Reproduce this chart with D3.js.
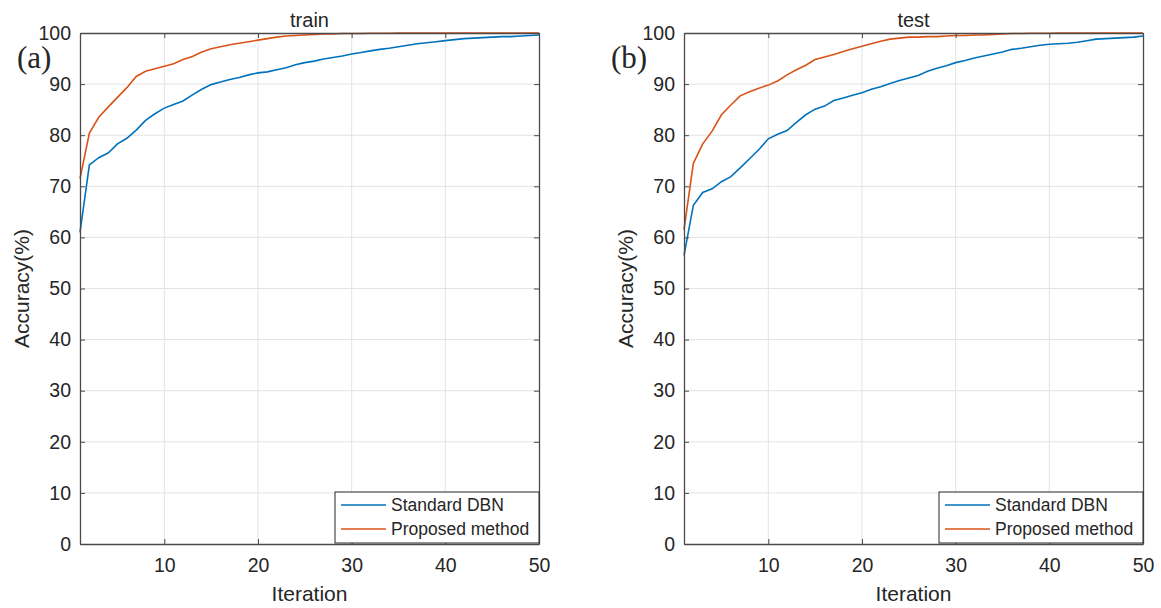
<!DOCTYPE html>
<html>
<head>
<meta charset="utf-8">
<script src="https://cdn.jsdelivr.net/npm/d3@7"></script>
<style>
  body { margin: 0; background: #fff; }
  svg text { font-family: "Liberation Sans", Arial, sans-serif; fill: #262626; }
</style>
</head>
<body>
<div id="chart"></div>
<script>
// iteration 1..50
const iterations = d3.range(1, 51)

// train accuracy (%)
const trainStandard = [61.0, 74.2, 75.6, 76.5, 78.3, 79.4, 81.0, 82.9, 84.2, 85.3,
    86.0, 86.7, 87.9, 89.0, 89.9, 90.4, 90.9, 91.3, 91.8, 92.2,
    92.4, 92.8, 93.2, 93.8, 94.2, 94.5, 94.9, 95.2, 95.5, 95.9,
    96.2, 96.5, 96.8, 97.0, 97.3, 97.6, 97.9, 98.1, 98.3, 98.5,
    98.7, 98.9, 99.0, 99.1, 99.2, 99.3, 99.3, 99.4, 99.5, 99.6]
const trainProposed = [71.5, 80.4, 83.5, 85.5, 87.4, 89.3, 91.5, 92.5, 93.0, 93.5,
    94.0, 94.8, 95.4, 96.3, 96.9, 97.3, 97.7, 98.0, 98.3, 98.6,
    98.9, 99.2, 99.4, 99.5, 99.6, 99.7, 99.8, 99.8, 99.9, 99.9,
    99.9, 99.95, 99.95, 99.95, 100, 100, 100, 100, 100, 100,
    100, 100, 100, 100, 100, 100, 100, 100, 100, 100]

// test accuracy (%)
const testStandard = [56.5, 66.3, 68.8, 69.5, 70.9, 71.9, 73.6, 75.4, 77.2, 79.3,
    80.2, 80.9, 82.5, 84.0, 85.1, 85.7, 86.8, 87.3, 87.8, 88.3,
    89.0, 89.5, 90.1, 90.7, 91.2, 91.7, 92.5, 93.1, 93.6, 94.2,
    94.6, 95.1, 95.5, 95.9, 96.3, 96.8, 97.0, 97.3, 97.6, 97.8,
    97.9, 98.0, 98.2, 98.5, 98.8, 98.9, 99.0, 99.1, 99.2, 99.4]
const testProposed = [61.5, 74.5, 78.3, 80.8, 84.0, 85.9, 87.7, 88.5, 89.2, 89.8,
    90.6, 91.8, 92.8, 93.7, 94.8, 95.3, 95.8, 96.4, 96.9, 97.4,
    97.9, 98.4, 98.8, 99.0, 99.2, 99.2, 99.3, 99.3, 99.4, 99.5,
    99.5, 99.6, 99.6, 99.7, 99.8, 99.9, 99.9, 99.95, 99.95, 99.95,
    100, 100, 100, 100, 100, 100, 100, 100, 100, 100]

const seriesNames = ["Standard DBN", "Proposed method"]
const colors = ["#0072BD", "#D95319"]
const xTicks = [10, 20, 30, 40, 50]
const yTicks = d3.range(0, 101, 10)

const width = 1161, height = 608

const svg = d3.select("#chart")
    .append("svg")
    .attr("width", width)
    .attr("height", height)

// panel boxes in pixels
const panels = [
    {left: 80, right: 539, title: "train", tag: "(a)", tagX: 17, data: [trainStandard, trainProposed]},
    {left: 684, right: 1143, title: "test", tag: "(b)", tagX: 611, data: [testStandard, testProposed]}
]
const plotTop = 33, plotBottom = 544

panels.forEach(function (p) {
    const x = d3.scaleLinear().domain([1, 50]).range([p.left, p.right])
    const y = d3.scaleLinear().domain([0, 100]).range([plotBottom, plotTop])
    const g = svg.append("g")

    // grid
    g.append("g")
        .selectAll("line")
        .data(xTicks.filter(d => d < 50))
        .enter().append("line")
        .attr("x1", d => x(d)).attr("x2", d => x(d))
        .attr("y1", plotTop).attr("y2", plotBottom)
        .attr("stroke", "#e3e3e3").attr("stroke-width", 1)
    g.append("g")
        .selectAll("line")
        .data(yTicks.filter(d => d > 0 && d < 100))
        .enter().append("line")
        .attr("x1", p.left).attr("x2", p.right)
        .attr("y1", d => y(d)).attr("y2", d => y(d))
        .attr("stroke", "#e3e3e3").attr("stroke-width", 1)

    // lines
    p.data.forEach(function (vals, k) {
        const line = d3.line()
            .x((d, i) => x(iterations[i]))
            .y(d => y(d))
        g.append("path")
            .datum(vals)
            .attr("d", line)
            .attr("fill", "none")
            .attr("stroke", colors[k])
            .attr("stroke-width", 1.6)
    })

    // axes (ticks inward, box on)
    const axColor = "#4a4a4a"
    const xb = g.append("g")
        .attr("transform", "translate(0," + plotBottom + ")")
        .call(d3.axisBottom(x).tickValues(xTicks).tickSizeInner(-5).tickSizeOuter(0).tickPadding(14))
    const xt = g.append("g")
        .attr("transform", "translate(0," + plotTop + ")")
        .call(d3.axisTop(x).tickValues(xTicks).tickSizeInner(-5).tickSizeOuter(0).tickFormat(""))
    const yl = g.append("g")
        .attr("transform", "translate(" + p.left + ",0)")
        .call(d3.axisLeft(y).tickValues(yTicks).tickSizeInner(-5).tickSizeOuter(0).tickPadding(9))
    const yr = g.append("g")
        .attr("transform", "translate(" + p.right + ",0)")
        .call(d3.axisRight(y).tickValues(yTicks).tickSizeInner(-5).tickSizeOuter(0).tickFormat(""))
    ;[xb, xt, yl, yr].forEach(function (a) {
        a.select(".domain").attr("stroke", axColor).attr("stroke-width", 1.3)
        a.selectAll(".tick line").attr("stroke", axColor)
        a.selectAll(".tick text")
            .attr("font-family", "Liberation Sans, Arial, sans-serif")
            .attr("font-size", 19.5)
            .attr("fill", "#262626")
    })
    xb.selectAll(".tick text").attr("dy", "0.71em")

    // title and axis labels
    g.append("text")
        .attr("x", (p.left + p.right) / 2).attr("y", 27)
        .attr("text-anchor", "middle")
        .attr("font-size", 20)
        .text(p.title)
    g.append("text")
        .attr("x", (p.left + p.right) / 2).attr("y", 601)
        .attr("text-anchor", "middle")
        .attr("font-size", 21)
        .text("Iteration")
    g.append("text")
        .attr("transform", "translate(" + (p.left - 51) + "," + ((plotTop + plotBottom) / 2) + ") rotate(-90)")
        .attr("text-anchor", "middle")
        .attr("font-size", 21)
        .text("Accuracy(%)")
    g.append("text")
        .attr("x", p.tagX).attr("y", 68)
        .style("font-family", "Liberation Serif, Times New Roman, serif")
        .attr("font-size", 31)
        .text(p.tag)

    // legend
    const lg = g.append("g")
        .attr("transform", "translate(" + (p.right - 204) + "," + (plotBottom - 52) + ")")
    lg.append("rect")
        .attr("width", 204).attr("height", 51)
        .attr("fill", "#fff").attr("stroke", "#262626").attr("stroke-width", 1)
    seriesNames.forEach(function (name, k) {
        const yy = 13 + k * 24
        lg.append("line")
            .attr("x1", 6).attr("x2", 51)
            .attr("y1", yy).attr("y2", yy)
            .attr("stroke", colors[k]).attr("stroke-width", 1.6)
        lg.append("text")
            .attr("x", 56).attr("y", yy)
            .attr("dy", "0.35em")
            .attr("font-size", 17.5)
            .text(name)
    })
})
</script>
</body>
</html>
